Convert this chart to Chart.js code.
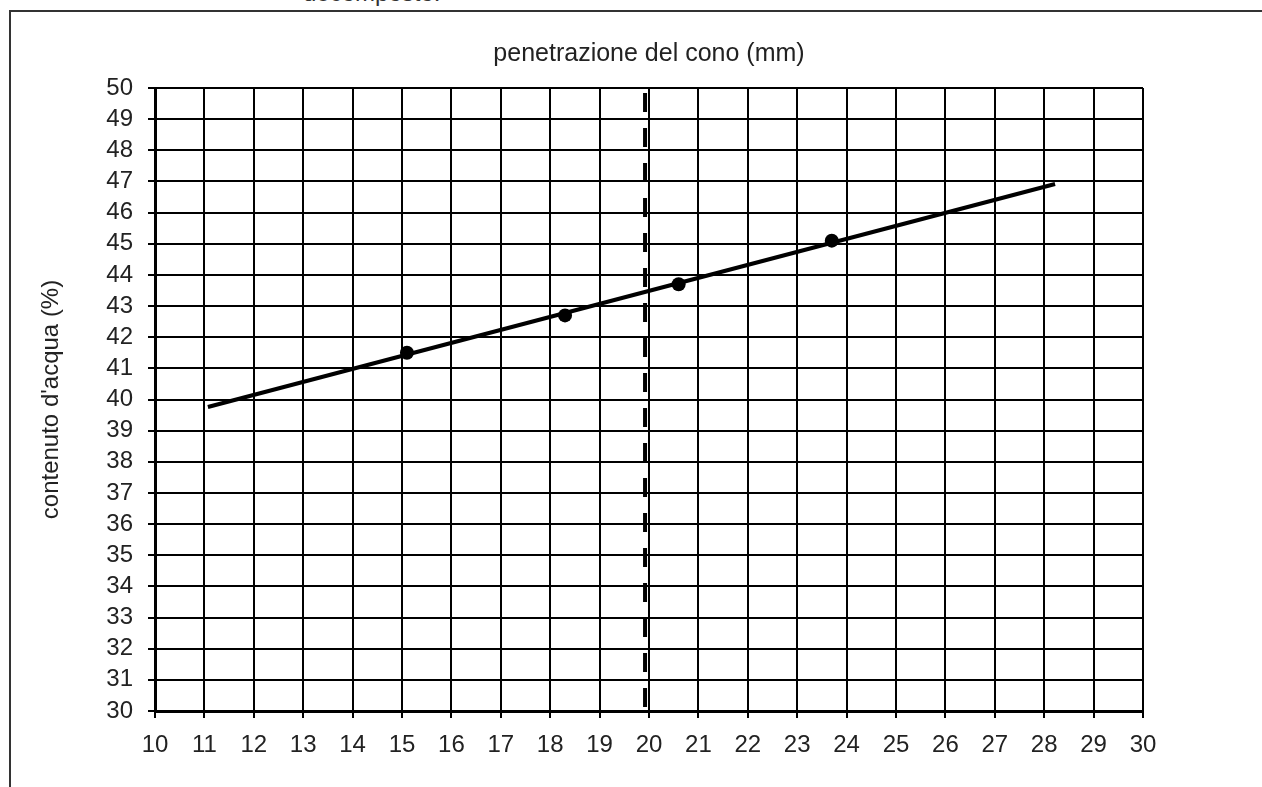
<!DOCTYPE html>
<html lang="it">
<head>
<meta charset="utf-8">
<title>penetrazione del cono</title>
<script src="https://cdn.jsdelivr.net/npm/chart.js@4.4.1/dist/chart.umd.min.js"></script>
<style>
  html, body { margin: 0; padding: 0; background: #fff; overflow: hidden; }
  #page { position: relative; width: 1262px; height: 787px; }
  #frame {
    position: absolute; left: 9px; top: 10px; right: -5px; bottom: -5px;
    border-top: 2px solid #333; border-left: 2px solid #333;
  }
  #cut {
    position: absolute; left: 303px; top: -19px;
    font: 24px "Liberation Sans", Arial, sans-serif; line-height: 24px; color: #333;
  }
  #wrap { position: absolute; left: 0; top: 0; width: 1262px; height: 787px; }
</style>
</head>
<body>
<div id="page">
  <div id="frame"></div>
  <div id="cut">decomposto.</div>
  <div id="wrap"><canvas id="chart"></canvas></div>
</div>
<script>
// misure (penetrazione mm, contenuto d'acqua %)
const penetrazione = [15.1, 18.3, 20.6, 23.7];
const contenutoAcqua = [41.5, 42.7, 43.7, 45.1];

// retta interpolante, estremi
const rettaX = [11.07, 28.22];
const rettaY = [39.76, 46.92];

// limite a 20 mm
const limiteX = [19.92, 19.92];
const limiteY = [50, 30];

const xMin = 10, xMax = 30;
const yMin = 30, yMax = 50;

const titoloX = 'penetrazione del cono (mm)';
const titoloY = "contenuto d'acqua (%)";

(() => {
  const family = '"Liberation Sans", Arial, sans-serif';
  const font = { family, size: 24, weight: 'normal' };
  const titleFont = { family, size: 25, weight: 'normal' };
  const ink = '#222';

  const toPoints = (xs, ys) => xs.map((x, i) => ({ x, y: ys[i] }));

  const ctx = document.getElementById('chart').getContext('2d');

  new Chart(ctx, {
    type: 'scatter',
    data: {
      datasets: [
        {
          label: 'punti',
          data: toPoints(penetrazione, contenutoAcqua),
          backgroundColor: '#000',
          borderColor: '#000',
          pointRadius: 7,
          pointBorderWidth: 0,
          order: 0
        },
        {
          label: 'retta',
          data: toPoints(rettaX, rettaY),
          showLine: true,
          borderColor: '#000',
          borderWidth: 4,
          pointRadius: 0,
          order: 1
        },
        {
          label: 'limite',
          data: toPoints(limiteX, limiteY),
          showLine: true,
          borderColor: '#000',
          borderWidth: 4,
          borderDash: [19, 16],
          borderDashOffset: 30,
          borderCapStyle: 'butt',
          pointRadius: 0,
          order: 2
        }
      ]
    },
    options: {
      responsive: true,
      maintainAspectRatio: false,
      animation: false,
      layout: { padding: { left: 0, right: 119, top: 0, bottom: 0 } },
      plugins: {
        legend: { display: false },
        tooltip: { enabled: false },
        title: {
          display: true,
          fullSize: false,
          text: titoloX,
          color: ink,
          font: titleFont,
          padding: { top: 39, bottom: 19 }
        }
      },
      scales: {
        x: {
          type: 'linear',
          min: xMin,
          max: xMax,
          afterFit: s => { s.height = 76; },
          grid: { color: '#000', lineWidth: 2, tickLength: 7, tickColor: '#000', tickWidth: 2 },
          border: { color: '#000', width: 3 },
          ticks: { stepSize: 1, color: ink, font, padding: 13, maxRotation: 0, autoSkip: false }
        },
        y: {
          type: 'linear',
          min: yMin,
          max: yMax,
          afterFit: s => { s.width = 155; },
          grid: { color: '#000', lineWidth: 2, tickLength: 7, tickColor: '#000', tickWidth: 2 },
          border: { color: '#000', width: 3 },
          ticks: { stepSize: 1, color: ink, font, padding: 15, autoSkip: false },
          title: {
            display: true,
            text: titoloY,
            color: ink,
            font,
            padding: { top: 37, bottom: 0 }
          }
        }
      }
    }
  });
})();
</script>
</body>
</html>
